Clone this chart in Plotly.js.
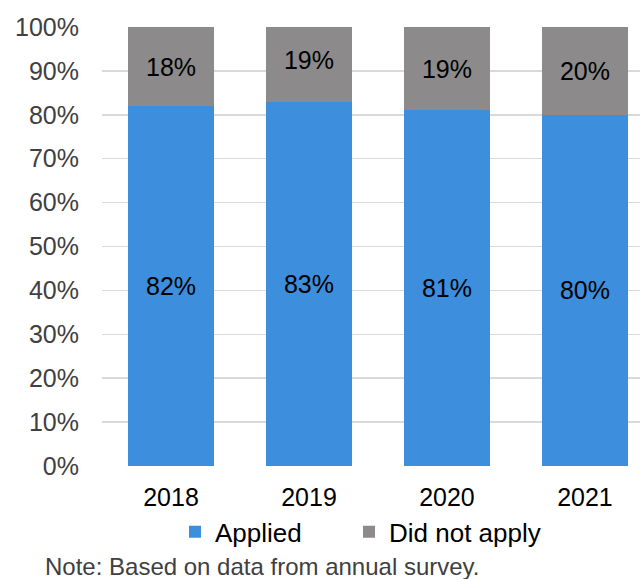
<!DOCTYPE html>
<html>
<head>
<meta charset="utf-8">
<script src="https://cdn.plot.ly/plotly-3.0.1.min.js"></script>
<style>html,body{margin:0;padding:0;background:#fff}#chart{width:640px;height:579px}</style>
</head>
<body>
<div id="chart"></div>
<script>
const years = ['2018', '2019', '2020', '2021'];
const applied = [82, 83, 81, 80];
const didNotApply = [18, 19, 19, 20];
const yTickVals = [0, 10, 20, 30, 40, 50, 60, 70, 80, 90, 100];
const yTickText = ['0%', '10%', '20%', '30%', '40%', '50%', '60%', '70%', '80%', '90%', '100%'];
const noteText = 'Note: Based on data from annual survey.';

const font = 'Liberation Sans, Arial, sans-serif';

const traces = [
  {
    type: 'bar', name: 'Applied', x: years, y: applied, legend: 'legend',
    marker: {color: '#3D8EDC'},
    text: applied.map(v => v + '%'), textposition: 'inside', insidetextanchor: 'middle',
    textangle: 0, constraintext: 'none',
    textfont: {family: font, size: 25, color: '#000'},
    hoverinfo: 'none'
  },
  {
    type: 'bar', name: 'Did not apply', x: years, y: didNotApply, legend: 'legend2',
    marker: {color: '#8C8A8B'},
    text: didNotApply.map(v => v + '%'), textposition: 'inside', insidetextanchor: 'middle',
    textangle: 0, constraintext: 'none',
    textfont: {family: font, size: 25, color: '#000'},
    hoverinfo: 'none'
  }
];

const legendBase = {
  orientation: 'h', xanchor: 'left', y: -0.15, yanchor: 'middle',
  font: {family: font, size: 26, color: '#000'},
  bgcolor: 'rgba(0,0,0,0)', borderwidth: 0
};

const layout = {
  width: 640, height: 579,
  margin: {l: 102, r: 0, t: 27, b: 113},
  paper_bgcolor: '#fff', plot_bgcolor: '#fff',
  barmode: 'stack', bargap: 0.377,
  font: {family: font, color: '#404040'},
  showlegend: true,
  xaxis: {
    type: 'category', range: [-0.5, 3.399],
    showgrid: false, zeroline: false, showline: false, ticks: '',
    tickfont: {family: font, size: 25, color: '#000'},
    ticklabelstandoff: 14
  },
  yaxis: {
    range: [0, 100], tickvals: yTickVals, ticktext: yTickText,
    showgrid: true, gridcolor: '#D9D9D9', gridwidth: 1.5,
    zeroline: false, showline: false, ticks: '',
    tickfont: {family: font, size: 25, color: '#404040'},
    ticklabelstandoff: 22
  },
  legend: Object.assign({}, legendBase, {x: (175 - 102) / 538}),
  legend2: Object.assign({}, legendBase, {x: (349 - 102) / 538}),
  annotations: [{
    text: noteText, xref: 'paper', yref: 'paper', x: -0.11, y: -0.228,
    xanchor: 'left', yanchor: 'middle', showarrow: false,
    font: {family: font, size: 24, color: '#404040'}
  }]
};

Plotly.newPlot('chart', traces, layout, {staticPlot: true, displayModeBar: false});
</script>
</body>
</html>
